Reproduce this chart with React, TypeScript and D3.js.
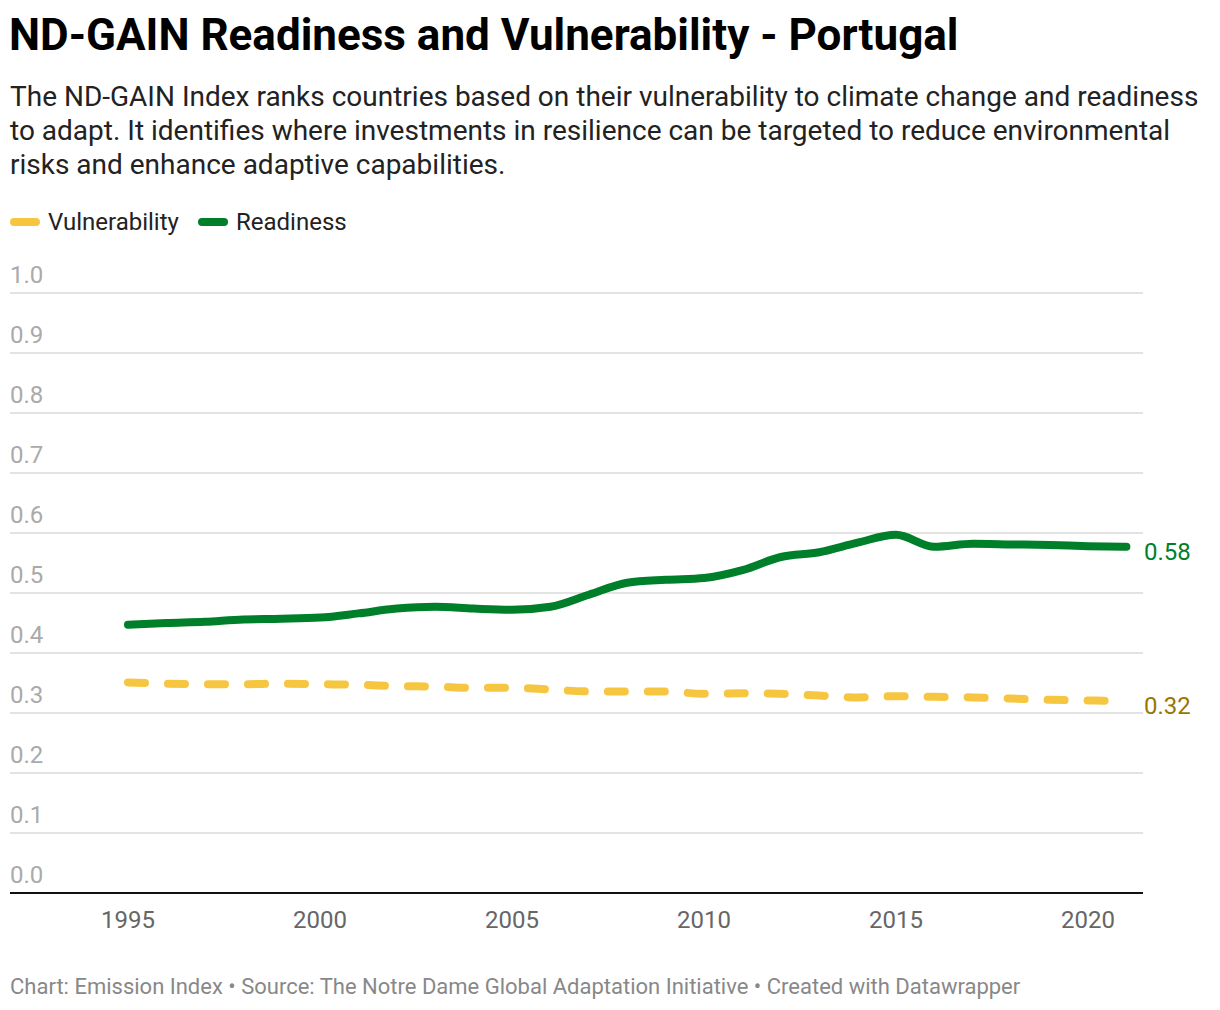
import { useEffect, useRef } from "react"
import * as d3 from "d3"

const years = [1995, 1996, 1997, 1998, 1999, 2000, 2001, 2002, 2003, 2004, 2005, 2006, 2007, 2008,
  2009, 2010, 2011, 2012, 2013, 2014, 2015, 2016, 2017, 2018, 2019, 2020, 2021]

const readiness = [0.447, 0.450, 0.452, 0.456, 0.457, 0.459, 0.466, 0.474, 0.477, 0.474, 0.472, 0.477,
  0.497, 0.517, 0.522, 0.525, 0.538, 0.560, 0.568, 0.584, 0.597, 0.577, 0.582, 0.581, 0.580, 0.578, 0.577]

const vulnerability = [0.351, 0.349, 0.348, 0.348, 0.349, 0.348, 0.347, 0.345, 0.344, 0.342, 0.342, 0.339,
  0.336, 0.336, 0.336, 0.332, 0.333, 0.332, 0.329, 0.326, 0.328, 0.327, 0.326, 0.324, 0.322, 0.321, 0.320]

const yTicks = [0, 0.1, 0.2, 0.3, 0.4, 0.5, 0.6, 0.7, 0.8, 0.9, 1.0]
const xTicks = [1995, 2000, 2005, 2010, 2015, 2020]

const title = "ND-GAIN Readiness and Vulnerability - Portugal"
const subtitle = [
  "The ND-GAIN Index ranks countries based on their vulnerability to climate change and readiness",
  "to adapt. It identifies where investments in resilience can be targeted to reduce environmental",
  "risks and enhance adaptive capabilities.",
]
const footer = "Chart: Emission Index • Source: The Notre Dame Global Adaptation Initiative • Created with Datawrapper"

const GREEN = "#007f2b"
const YELLOW = "#f7c641"

export default function App() {
  const svgRef = useRef<SVGSVGElement>(null)
  const width = 1220
  const height = 1010

  useEffect(() => {
    if (!svgRef.current) return
    const svg = d3.select(svgRef.current)
    svg.selectAll("*").remove()

    const font = "Roboto, sans-serif"
    const left = 10, right = 1143, top = 293, bottom = 893

    const x = d3.scaleLinear().domain([1995, 2020]).range([128, 1088])
    const y = d3.scaleLinear().domain([0, 1]).range([bottom, top])

    // header
    svg.append("text").attr("x", 9).attr("y", 50)
      .attr("font-family", font).attr("font-weight", 700).attr("font-size", 44)
      .attr("fill", "#000").text(title)

    svg.append("g").selectAll("text").data(subtitle).enter().append("text")
      .attr("x", 10).attr("y", (_, i) => 106 + i * 34)
      .attr("font-family", font).attr("font-size", 28).attr("fill", "#222")
      .text(d => d)

    // legend
    const legend = [
      { name: "Vulnerability", color: YELLOW, x: 14 },
      { name: "Readiness", color: GREEN, x: 202 },
    ]
    const lg = svg.append("g")
    legend.forEach(l => {
      lg.append("line").attr("x1", l.x).attr("x2", l.x + 22).attr("y1", 222).attr("y2", 222)
        .attr("stroke", l.color).attr("stroke-width", 8).attr("stroke-linecap", "round")
      lg.append("text").attr("x", l.x + 34).attr("y", 230)
        .attr("font-family", font).attr("font-size", 24).attr("fill", "#222").text(l.name)
    })

    // grid
    const grid = svg.append("g")
    grid.selectAll("line").data(yTicks.filter(t => t > 0)).enter().append("line")
      .attr("x1", left).attr("x2", right)
      .attr("y1", d => y(d)).attr("y2", d => y(d))
      .attr("stroke", "#e3e3e3").attr("stroke-width", 2)
    grid.selectAll("text").data(yTicks).enter().append("text")
      .attr("x", left).attr("y", d => y(d) - 10)
      .attr("font-family", font).attr("font-size", 24).attr("fill", "#aaa")
      .text(d => d3.format(".1f")(d))

    svg.append("line").attr("x1", left).attr("x2", right).attr("y1", bottom).attr("y2", bottom)
      .attr("stroke", "#111").attr("stroke-width", 2)

    // x axis
    svg.append("g").selectAll("text").data(xTicks).enter().append("text")
      .attr("x", d => x(d)).attr("y", 928).attr("text-anchor", "middle")
      .attr("font-family", font).attr("font-size", 24).attr("fill", "#666")
      .text(d => d)

    const line = d3.line<number>()
      .x((_, i) => x(years[i]))
      .y(d => y(d))
      .curve(d3.curveMonotoneX)

    svg.append("path").attr("d", line(vulnerability))
      .attr("fill", "none").attr("stroke", YELLOW).attr("stroke-width", 8)
      .attr("stroke-linecap", "round").attr("stroke-dasharray", "17 23")

    svg.append("path").attr("d", line(readiness))
      .attr("fill", "none").attr("stroke", GREEN).attr("stroke-width", 8)
      .attr("stroke-linecap", "round").attr("stroke-linejoin", "round")

    // end labels
    const last = years.length - 1
    const endLabels = [
      { v: readiness[last], color: GREEN },
      { v: vulnerability[last], color: "#9a7600" },
    ]
    svg.append("g").selectAll("text").data(endLabels).enter().append("text")
      .attr("x", 1144).attr("y", d => y(d.v) + 13)
      .attr("font-family", font).attr("font-size", 24).attr("fill", d => d.color)
      .text(d => d3.format(".2f")(d.v))

    // footer
    svg.append("text").attr("x", 10).attr("y", 994)
      .attr("font-family", font).attr("font-size", 22).attr("fill", "#888")
      .text(footer)
  }, [])

  return (
    <svg
      ref={svgRef}
      width={width}
      height={height}
      viewBox={`0 0 ${width} ${height}`}
      style={{ position: "absolute", left: 0, top: 0, background: "#fff" }}
      xmlns="http://www.w3.org/2000/svg"
    ></svg>
  )
}
